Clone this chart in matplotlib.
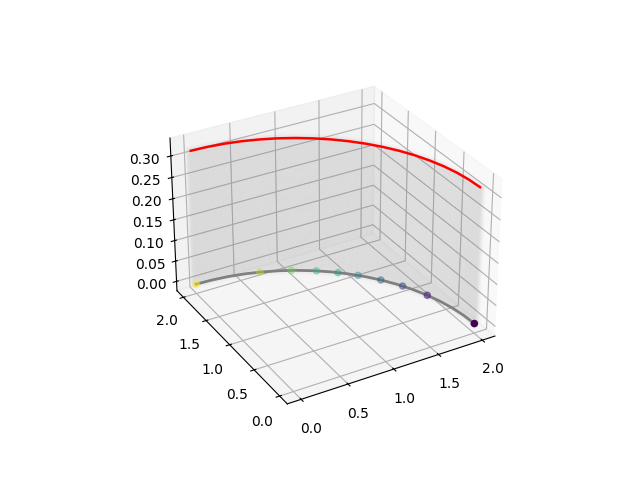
import numpy as np
import matplotlib
matplotlib.use("Agg")
import matplotlib.pyplot as plt

# curve
curve_x = [2.000, 1.992, 1.970, 1.932, 1.879, 1.813, 1.732, 1.638, 1.532, 1.414,
           1.286, 1.147, 1.000, 0.845, 0.684, 0.518, 0.347, 0.174, 0.000]
curve_y = [0.000, 0.174, 0.347, 0.518, 0.684, 0.845, 1.000, 1.147, 1.286, 1.414,
           1.532, 1.638, 1.732, 1.813, 1.879, 1.932, 1.970, 1.992, 2.000]
curve_z = [0.318] * len(curve_x)

# sample points on the floor
point_x = [2.000, 1.885, 1.766, 1.638, 1.486, 1.338, 1.167, 0.954, 0.661, 0.000]
point_y = [0.000, 0.668, 0.939, 1.147, 1.338, 1.486, 1.624, 1.758, 1.888, 2.000]
point_order = [0, 1, 2, 3, 4, 5, 6, 7, 8, 9]
point_alpha = [1.0, 0.55, 0.45, 0.42, 0.36, 0.36, 0.36, 0.36, 0.4, 0.5]

# heights of the faint gray curtain
curtain_z = [0.000, 0.005, 0.010, 0.015, 0.020, 0.025, 0.030, 0.035, 0.040, 0.045,
             0.050, 0.055, 0.060, 0.065, 0.070, 0.075, 0.080, 0.085, 0.090, 0.095,
             0.100, 0.105, 0.110, 0.115, 0.120, 0.125, 0.130, 0.135, 0.140, 0.145,
             0.150, 0.155, 0.160, 0.165, 0.170, 0.175, 0.180, 0.185, 0.190, 0.195,
             0.200, 0.205, 0.210, 0.215, 0.220, 0.225, 0.230, 0.235, 0.240, 0.245,
             0.250, 0.255, 0.260, 0.265, 0.270, 0.275, 0.280, 0.285, 0.290, 0.295,
             0.300, 0.305, 0.310, 0.315, 0.318]

fig = plt.figure()
ax = fig.add_subplot(projection="3d")
ax.computed_zorder = False

# stacked widths give the curtain its soft edge
for level in curtain_z:
    for width in [2, 5, 7]:
        ax.plot(curve_x, curve_y, [level] * len(curve_x), color="gray", lw=width,
                alpha=0.019, zorder=1)

ax.plot(curve_x, curve_y, [0] * len(curve_x), color="gray", lw=2, zorder=2)
ax.plot(curve_x, curve_y, curve_z, color="red", lw=1.8, zorder=4)

colors = plt.cm.viridis(np.array(point_order) / max(point_order))
colors[:, 3] = point_alpha
ax.scatter(point_x, point_y, [0] * len(point_x), c=colors, depthshade=False, zorder=3)

ax.set_xticks([0.0, 0.5, 1.0, 1.5, 2.0])
ax.set_yticks([0.0, 0.5, 1.0, 1.5, 2.0])
ax.view_init(elev=30, azim=-120)

plt.savefig("out.png", dpi=100)
